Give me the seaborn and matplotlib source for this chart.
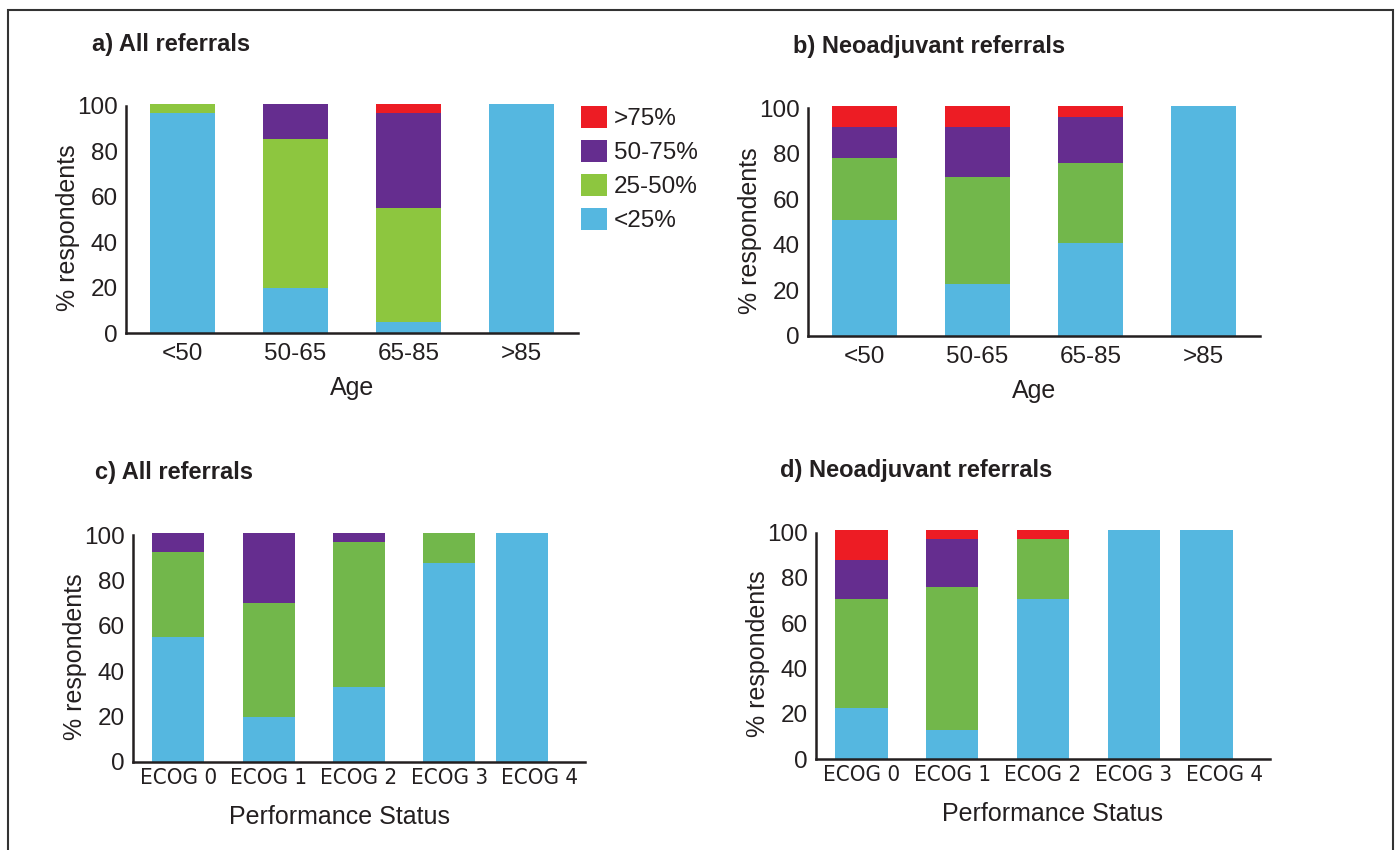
import matplotlib
matplotlib.use("Agg")
import matplotlib.pyplot as plt
from matplotlib.patches import Patch, Rectangle
import pandas as pd
import seaborn as sns

# categories
age_groups = ['<50', '50-65', '65-85', '>85']
ecog_groups = ['ECOG 0', 'ECOG 1', 'ECOG 2', 'ECOG 3', 'ECOG 4']
bands = ['<25%', '25-50%', '50-75%', '>75%']

# a) All referrals by age (% respondents)
a_lt25 = [97, 20, 5, 101]
a_25_50 = [4, 65.5, 50, 0]
a_50_75 = [0, 15.5, 42, 0]
a_gt75 = [0, 0, 4, 0]

# b) Neoadjuvant referrals by age
b_lt25 = [51, 23, 41, 101]
b_25_50 = [27, 47, 35, 0]
b_50_75 = [14, 22, 20, 0]
b_gt75 = [9, 9, 5, 0]

# c) All referrals by performance status
c_lt25 = [55, 20, 33, 87.5, 101]
c_25_50 = [37.5, 50, 64, 13.5, 0]
c_50_75 = [8.5, 31, 4, 0, 0]
c_gt75 = [0, 0, 0, 0, 0]

# d) Neoadjuvant referrals by performance status
d_lt25 = [22.5, 13, 70.5, 101, 101]
d_25_50 = [48, 63, 26.5, 0, 0]
d_50_75 = [17.5, 21, 0, 0, 0]
d_gt75 = [13, 4, 4, 0, 0]

RED = '#ed1c24'
PURPLE = '#652d8f'
GREEN_LIGHT = '#8dc63f'
GREEN = '#72b74b'
BLUE = '#55b7e0'
INK = '#231f20'

sns.set_style("white")
plt.rcParams['font.family'] = ['Liberation Sans', 'DejaVu Sans']
plt.rcParams['text.color'] = INK
plt.rcParams['axes.labelcolor'] = INK
plt.rcParams['xtick.color'] = INK
plt.rcParams['ytick.color'] = INK

W, H = 1399, 850
fig = plt.figure(figsize=(W / 100, H / 100), dpi=100)


def px_axes(left, right, y0, y100):
    # axes box from pixel positions of the spine (y0 = value 0, y100 = value 100)
    scale = (y0 - y100) / 100.0
    top = y0 - 102 * scale
    return fig.add_axes([left / W, 1 - y0 / H, (right - left) / W, (y0 - top) / H])


def draw_panel(ax, cats, lt25, b25, b50, gt75, green, xlabel, condensed=False,
               last_shift=0.0, xlabel_x=0.5):
    df = pd.DataFrame({'cat': cats, '<25%': lt25, '25-50%': b25, '50-75%': b50, '>75%': gt75})
    cum = df[bands].cumsum(axis=1)
    cum['cat'] = df['cat']
    colors = {'<25%': BLUE, '25-50%': green, '50-75%': PURPLE, '>75%': RED}
    # stacked: draw cumulative totals from the top band down
    for band in reversed(bands):
        sns.barplot(data=cum, x='cat', y=band, order=cats, color=colors[band],
                    saturation=1, width=0.575, linewidth=0, ax=ax, errorbar=None)
    n = len(cats)
    if last_shift:
        # the source figure places the last bar off-centre in its slot
        for p in ax.patches:
            if abs(p.get_x() + p.get_width() / 2 - (n - 1)) < 0.01:
                p.set_x(p.get_x() - last_shift)

    ax.set_xlim(-0.5, n - 0.5)
    ax.set_ylim(0, 102)
    ax.set_yticks([0, 20, 40, 60, 80, 100])
    ax.set_xticks(range(n))
    ax.set_xticks([i - 0.5 for i in range(n + 1)], minor=True)
    for s in ['top', 'right']:
        ax.spines[s].set_visible(False)
    for s in ['left', 'bottom']:
        ax.spines[s].set_linewidth(1.8)
        ax.spines[s].set_color(INK)
    ax.spines['left'].set_bounds(0, 100)
    ax.tick_params(axis='y', direction='in', length=8, width=1.8, labelsize=17.5, pad=6)
    ax.tick_params(axis='x', which='major', length=0, labelsize=17.5, pad=7)
    ax.tick_params(axis='x', which='minor', direction='in', length=3, width=1.8)
    if condensed:
        ax.tick_params(axis='x', which='major', pad=4)
        for t in ax.get_xticklabels():
            t.set_family(['Liberation Sans Narrow', 'DejaVu Sans'])
            t.set_stretch('condensed')
            t.set_fontsize(16)
        ax.set_xlabel(xlabel, fontsize=18, labelpad=12.5)
    else:
        ax.set_xlabel(xlabel, fontsize=18, labelpad=8)
    ax.xaxis.label.set_x(xlabel_x)
    ax.set_ylabel('% respondents', fontsize=18, labelpad=-2)
    ax.yaxis.label.set_y(0.455)


ax_a = px_axes(126, 578, 333, 106)
draw_panel(ax_a, age_groups, a_lt25, a_25_50, a_50_75, a_gt75, GREEN_LIGHT, 'Age')

ax_b = px_axes(808, 1260, 336, 108.3)
draw_panel(ax_b, age_groups, b_lt25, b_25_50, b_50_75, b_gt75, GREEN, 'Age')

ax_c = px_axes(133, 585, 762, 535)
draw_panel(ax_c, ecog_groups, c_lt25, c_25_50, c_50_75, c_gt75, GREEN, 'Performance Status',
           condensed=True, last_shift=0.2, xlabel_x=0.456)

ax_d = px_axes(816, 1270, 759, 532.5)
draw_panel(ax_d, ecog_groups, d_lt25, d_25_50, d_50_75, d_gt75, GREEN, 'Performance Status',
           condensed=True, last_shift=0.2, xlabel_x=0.522)

# panel titles
title_kw = dict(fontsize=17, fontweight='bold', va='center')
fig.text(92 / W, 1 - 45 / H, 'a) All referrals', **title_kw)
fig.text(793 / W, 1 - 47 / H, 'b) Neoadjuvant referrals', **title_kw)
fig.text(95 / W, 1 - 472 / H, 'c) All referrals', **title_kw)
fig.text(780 / W, 1 - 470 / H, 'd) Neoadjuvant referrals', **title_kw)

# legend (top band first)
legend_colors = [RED, PURPLE, GREEN_LIGHT, BLUE]
handles = [Patch(facecolor=c, edgecolor='none') for c in legend_colors]
fig.legend(handles, list(reversed(bands)), loc='upper left',
           bbox_to_anchor=(581 / W, 1 - 106 / H), frameon=False, fontsize=17.5,
           handlelength=1.05, handleheight=1.0, handletextpad=0.3,
           labelspacing=0.4, borderpad=0, borderaxespad=0)

# outer frame (open at the bottom of the crop)
fig.add_artist(Rectangle((8 / W, -0.1), 1385 / W, 1.1 - 10 / H, transform=fig.transFigure,
                         fill=False, edgecolor='#333333', linewidth=1.5, clip_on=False))

fig.savefig('out.png', dpi=100)
